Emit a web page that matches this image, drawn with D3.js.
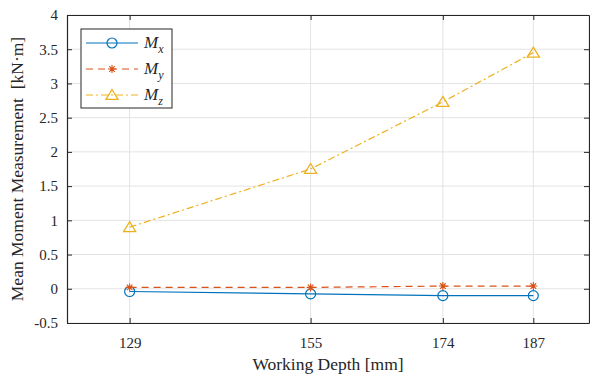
<!DOCTYPE html>
<html>
<head>
<meta charset="utf-8">
<script src="https://cdn.jsdelivr.net/npm/d3@7"></script>
<style>
body { margin: 0; background: #fff; }
text { font-family: "Liberation Serif", "Times New Roman", serif; fill: #262626; }
</style>
</head>
<body>
<script>
// working depth categories and mean moments
var depths = [129, 155, 174, 187];
var mx = [-0.04, -0.075, -0.10, -0.10];
var my = [0.02, 0.02, 0.04, 0.04];
var mz = [0.90, 1.75, 2.73, 3.45];
var yTicks = [-0.5, 0, 0.5, 1, 1.5, 2, 2.5, 3, 3.5, 4];
var seriesNames = ["x", "y", "z"];

var width = 590, height = 374;
var pLeft = 67, pRight = 589, pTop = 15, pBottom = 323;

var svg = d3.select('body')
        .append("svg")
        .attr("width", width)
        .attr("height", height);

var x = d3.scaleLinear().domain([120, 195]).range([pLeft, pRight]);
var y = d3.scaleLinear().domain([-0.5, 4]).range([pBottom, pTop]);

// grid
svg.append("g").selectAll("line")
        .data(depths)
        .enter()
        .append("line")
        .attr("x1", function(d) { return x(d); })
        .attr("x2", function(d) { return x(d); })
        .attr("y1", pTop)
        .attr("y2", pBottom)
        .attr("stroke", "#e3e3e3")
        .attr("stroke-width", 1);

svg.append("g").selectAll("line")
        .data(yTicks)
        .enter()
        .append("line")
        .attr("x1", pLeft)
        .attr("x2", pRight)
        .attr("y1", function(d) { return y(d); })
        .attr("y2", function(d) { return y(d); })
        .attr("stroke", "#e3e3e3")
        .attr("stroke-width", 1);

// axes with inward ticks
var plain = function(d) { return String(d); };
var xAxis = svg.append("g")
        .attr("transform", "translate(0," + pBottom + ")")
        .call(d3.axisBottom(x).tickValues(depths).tickFormat(plain).tickSizeInner(-5).tickSizeOuter(0).tickPadding(14));
var xTop = svg.append("g")
        .attr("transform", "translate(0," + pTop + ")")
        .call(d3.axisTop(x).tickValues(depths).tickSizeInner(-5).tickSizeOuter(0).tickFormat(""));
var yAxis = svg.append("g")
        .attr("transform", "translate(" + pLeft + ",0)")
        .call(d3.axisLeft(y).tickValues(yTicks).tickFormat(plain).tickSizeInner(-5).tickSizeOuter(0).tickPadding(9));
var yRight = svg.append("g")
        .attr("transform", "translate(" + pRight + ",0)")
        .call(d3.axisRight(y).tickValues(yTicks).tickSizeInner(-5).tickSizeOuter(0).tickFormat(""));

[xAxis, xTop, yAxis, yRight].forEach(function(a) {
    a.attr("font-family", "Liberation Serif").attr("font-size", 15);
    a.select(".domain").attr("stroke", "#262626").attr("stroke-width", 1.2);
    a.selectAll(".tick line").attr("stroke", "#262626");
    a.selectAll("text")
        .style("font-family", "'Liberation Serif', serif")
        .style("font-size", "15px")
        .attr("fill", "#333");
});

// axis labels
svg.append("text")
        .attr("x", (pLeft + pRight) / 2)
        .attr("y", 370)
        .attr("text-anchor", "middle")
        .style("font-size", "17.5px")
        .text("Working Depth [mm]");

svg.append("text")
        .attr("transform", "translate(23," + (pTop + pBottom) / 2 + ") rotate(-90)")
        .attr("text-anchor", "middle")
        .style("font-size", "17.5px")
        .text("Mean Moment Measurement\u00a0 [kN\u00b7m]");

var colors = ["#0072BD", "#D95319", "#EDB120"];
var dashes = [null, "7,5", "7,3,2,3"];
var allData = [mx, my, mz];

var line = d3.line()
        .x(function(d, i) { return x(depths[i]); })
        .y(function(d) { return y(d); });

function marker(g, k, cx, cy) {
    if (k == 0) {
        g.append("circle").attr("cx", cx).attr("cy", cy).attr("r", 5)
            .attr("fill", "none").attr("stroke", colors[0]).attr("stroke-width", 1.2);
    } else if (k == 1) {
        var s = 4;
        var p = "M" + (cx - s) + "," + cy + "H" + (cx + s) +
                "M" + cx + "," + (cy - s) + "V" + (cy + s) +
                "M" + (cx - s * 0.7) + "," + (cy - s * 0.7) + "L" + (cx + s * 0.7) + "," + (cy + s * 0.7) +
                "M" + (cx - s * 0.7) + "," + (cy + s * 0.7) + "L" + (cx + s * 0.7) + "," + (cy - s * 0.7);
        g.append("path").attr("d", p).attr("fill", "none")
            .attr("stroke", colors[1]).attr("stroke-width", 1.1);
    } else {
        var h = 5.5;
        var t = "M" + cx + "," + (cy - h) + "L" + (cx + h * 1.1) + "," + (cy + h * 0.8) +
                "L" + (cx - h * 1.1) + "," + (cy + h * 0.8) + "Z";
        g.append("path").attr("d", t).attr("fill", "none")
            .attr("stroke", colors[2]).attr("stroke-width", 1.3);
    }
}

allData.forEach(function(vals, k) {
    svg.append("path")
        .datum(vals)
        .attr("d", line)
        .attr("fill", "none")
        .attr("stroke", colors[k])
        .attr("stroke-width", 1.2)
        .attr("stroke-dasharray", dashes[k]);
    var g = svg.append("g");
    vals.forEach(function(v, i) {
        marker(g, k, x(depths[i]), y(v));
    });
});

// legend
var leg = svg.append("g");
leg.append("rect")
        .attr("x", 81).attr("y", 29)
        .attr("width", 91).attr("height", 79)
        .attr("fill", "#fff")
        .attr("stroke", "#262626")
        .attr("stroke-width", 1);

seriesNames.forEach(function(n, k) {
    var ly = 43 + k * 26;
    leg.append("line")
        .attr("x1", 86).attr("x2", 138)
        .attr("y1", ly).attr("y2", ly)
        .attr("stroke", colors[k])
        .attr("stroke-width", 1.2)
        .attr("stroke-dasharray", dashes[k]);
    marker(leg, k, 112, ly);
    var t = leg.append("text")
        .attr("x", 144).attr("y", ly + 5)
        .style("font-size", "17px")
        .style("font-style", "italic");
    t.append("tspan").text("M");
    t.append("tspan").attr("dy", 5).style("font-size", "12px").text(n);
});
</script>
</body>
</html>
